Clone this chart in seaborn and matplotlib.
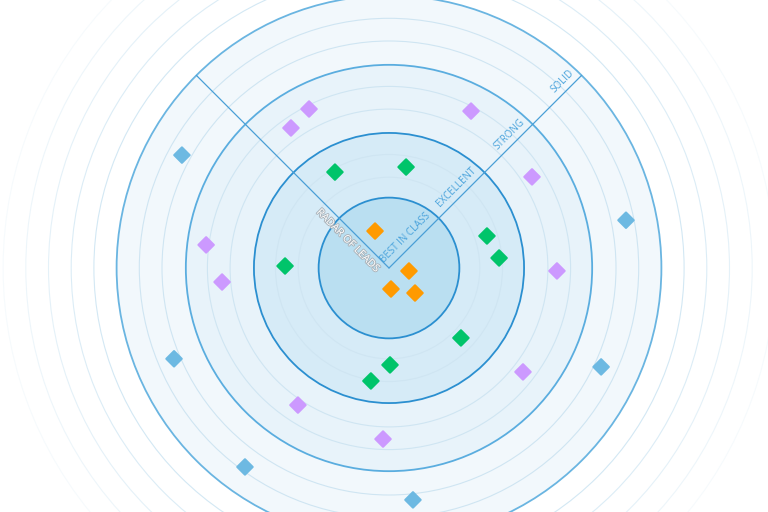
import numpy as np
import pandas as pd
import matplotlib
matplotlib.use("Agg")
import matplotlib.pyplot as plt
import matplotlib.patheffects as pe
from matplotlib.patches import Circle
import seaborn as sns

# Tiers of the radar (inner to outer) and where each ring sits, in score units
tiers = ["BEST IN CLASS", "EXCELLENT", "STRONG", "SOLID"]
ring_radius = [3.1, 5.95, 8.95, 12.0]
grid_levels = [4, 5, 7, 8, 10, 11, 13, 14, 15, 16, 17]

# Leads: tier, distance from centre, angle in degrees
lead_tier = (["BEST IN CLASS"] * 4 + ["EXCELLENT"] * 8
             + ["STRONG"] * 10 + ["SOLID"] * 6)
lead_score = [1.74, 0.89, 0.93, 1.59,
              4.85, 4.51, 4.54, 4.87, 4.58, 4.42, 4.27, 5.04,
              7.84, 7.53, 7.80, 7.47, 7.40, 8.12, 7.38, 7.47, 7.25, 7.54,
              10.39, 10.65, 10.28, 10.31, 10.82, 10.27]
lead_angle = [110.7, -8.5, -84.6, -43.9,
              119.4, 80.4, 18.1, 5.2, 178.9, -44.2, -89.4, -99.1,
              116.7, 125.0, 62.4, 32.5, -1.0, 172.8, 184.8, -37.8, -123.6, -92.0,
              151.4, 11.4, -157.1, -25.0, -125.9, -84.1]

tier_colors = {"BEST IN CLASS": "#ff9a00", "EXCELLENT": "#00c46a",
               "STRONG": "#cc99ff", "SOLID": "#6db9e2"}
band_fill = ["#badff1", "#d6ebf7", "#e8f3fa", "#f2f8fc"]
ring_edge = ["#2b8fd0", "#2b8fd0", "#5aaddf", "#6ab5e1"]

sns.set_theme(style="white")
plt.rcParams["font.family"] = ["Open Sans", "DejaVu Sans"]

fig = plt.figure(figsize=(7.68, 5.12), dpi=100)
ax = fig.add_axes([0, 0, 1, 1])
unit = 22.7  # pixels per score unit
ax.set_xlim(-389 / unit, 379 / unit)
ax.set_ylim(-244 / unit, 268 / unit)
ax.axis("off")

# filled bands, outer first
for r, fc in reversed(list(zip(ring_radius, band_fill))):
    ax.add_patch(Circle((0, 0), r, facecolor=fc, edgecolor="none", zorder=1))

# faint grid circles
for g in grid_levels:
    if g < ring_radius[-1]:
        ax.add_patch(Circle((0, 0), g, fill=False, edgecolor="#cfe5f2",
                            linewidth=0.8, zorder=2))
    else:
        fade = max(0.2, 1.0 - (g - 13) * 0.2)
        ax.add_patch(Circle((0, 0), g, fill=False, edgecolor="#d3e8f4",
                            linewidth=0.8, alpha=fade, zorder=2))

# tier rings
for r, ec in zip(ring_radius, ring_edge):
    ax.add_patch(Circle((0, 0), r, fill=False, edgecolor=ec,
                        linewidth=1.3, zorder=3))

# the two dividing lines
outer = ring_radius[-1]
d = outer / np.sqrt(2)
ax.plot([0, d], [0, d], color="#4a9fd6", linewidth=0.9, zorder=3)
ax.plot([0, -d], [0, d], color="#4a9fd6", linewidth=0.9, zorder=3)

# tier labels along the up-right line
for r, name in zip(ring_radius, tiers):
    along = r - 0.17
    perp = 0.42
    x = (along - perp) / np.sqrt(2)
    y = (along + perp) / np.sqrt(2)
    ax.text(x, y, name, rotation=45, rotation_mode="anchor", ha="right",
            va="center", fontsize=7, color="#4aa3dc", zorder=4)

# title along the up-left line
along, perp = 2.15, 0.44
tx = (-along - perp) / np.sqrt(2)
ty = (along - perp) / np.sqrt(2)
ax.text(tx, ty, "RADAR OF LEADS", rotation=-45, rotation_mode="anchor",
        ha="center", va="center", fontsize=7.6, color="white", zorder=4,
        path_effects=[pe.withStroke(linewidth=1.3, foreground="#aab3ba")])

# leads
theta = np.deg2rad(lead_angle)
leads = pd.DataFrame({
    "tier": lead_tier,
    "x": np.array(lead_score) * np.cos(theta),
    "y": np.array(lead_score) * np.sin(theta),
})
sns.scatterplot(data=leads, x="x", y="y", hue="tier", palette=tier_colors,
                marker="D", s=62, edgecolor="face", linewidth=1.5,
                joinstyle="round", legend=False, ax=ax, zorder=5)
ax.set_xlabel("")
ax.set_ylabel("")

fig.savefig("out.png", dpi=100)
